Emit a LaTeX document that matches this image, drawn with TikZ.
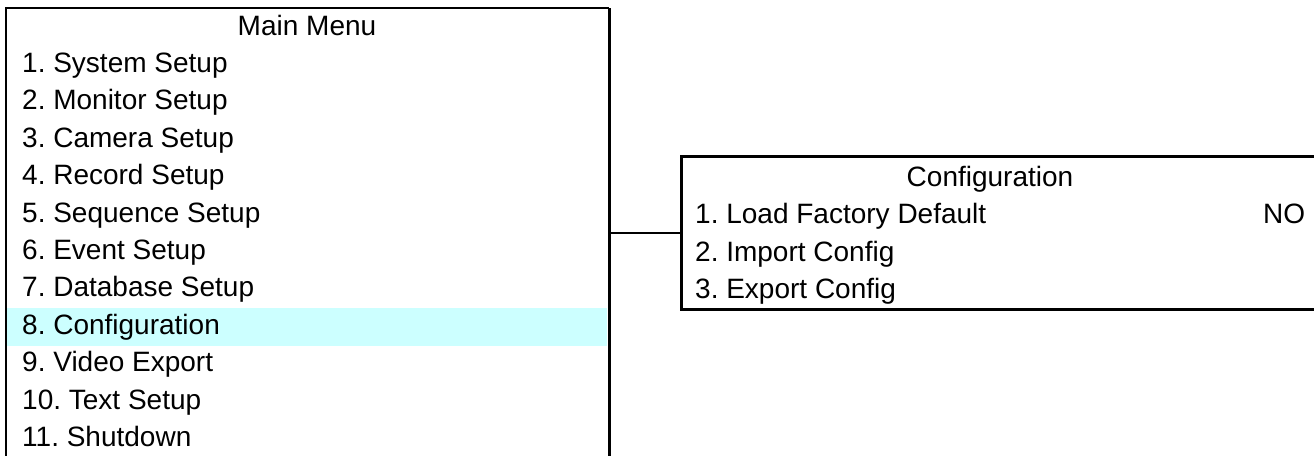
\documentclass[tikz,border=0pt]{standalone}
\usepackage{fontspec}
\setmainfont{Liberation Sans}
\definecolor{hilite}{HTML}{CCFFFF}
\frenchspacing
\begin{document}
\begin{tikzpicture}[x=1pt,y=-1pt,
  item/.style={anchor=base west,inner sep=0pt,font=\fontsize{28}{30}\selectfont},
  ttl/.style={anchor=base,inner sep=0pt,font=\fontsize{28}{30}\selectfont},
  frame/.style={draw=black,line width=3pt}]
\useasboundingbox (0,0) rectangle (1314,455);
% main menu frame (open at the bottom, clipped)
\node[minimum width=603pt,minimum height=470pt,inner sep=0pt,anchor=north west] (main) at (6,8) {};
\fill[hilite] (7,308) rectangle (607,346);
\draw[line width=2.6pt] (main.south west) -- (main.north west) -- (main.north east);
\draw[line width=3.4pt] (main.north east) -- (main.south east);
\node[ttl] (mt) at (307,35) {Main Menu};
\foreach \i/\t in {1/System Setup,2/Monitor Setup,3/Camera Setup,4/Record Setup,5/Sequence Setup,6/Event Setup,7/Database Setup,8/Configuration,9/Video Export,10/Text Setup,11/Shutdown}
  \node[item] (m\i) at (22,35+37.4*\i) {\i. \t};
% configuration box
\node[frame,minimum width=650pt,minimum height=153pt,inner sep=0pt,anchor=north west] (cfg) at (680,155) {};
\node[ttl] (ct) at (990,186) {Configuration};
\node[item] (c1) at (695,223.5) {1. Load Factory Default};
\node[item] (c2) at (695,261) {2. Import Config};
\node[item] (c3) at (695,298.5) {3. Export Config};
\node[item] (no) at (1263,223.5) {NO};
\draw[line width=2.6pt] (cfg.west -| main.east) -- (cfg.west);
\end{tikzpicture}
\end{document}
